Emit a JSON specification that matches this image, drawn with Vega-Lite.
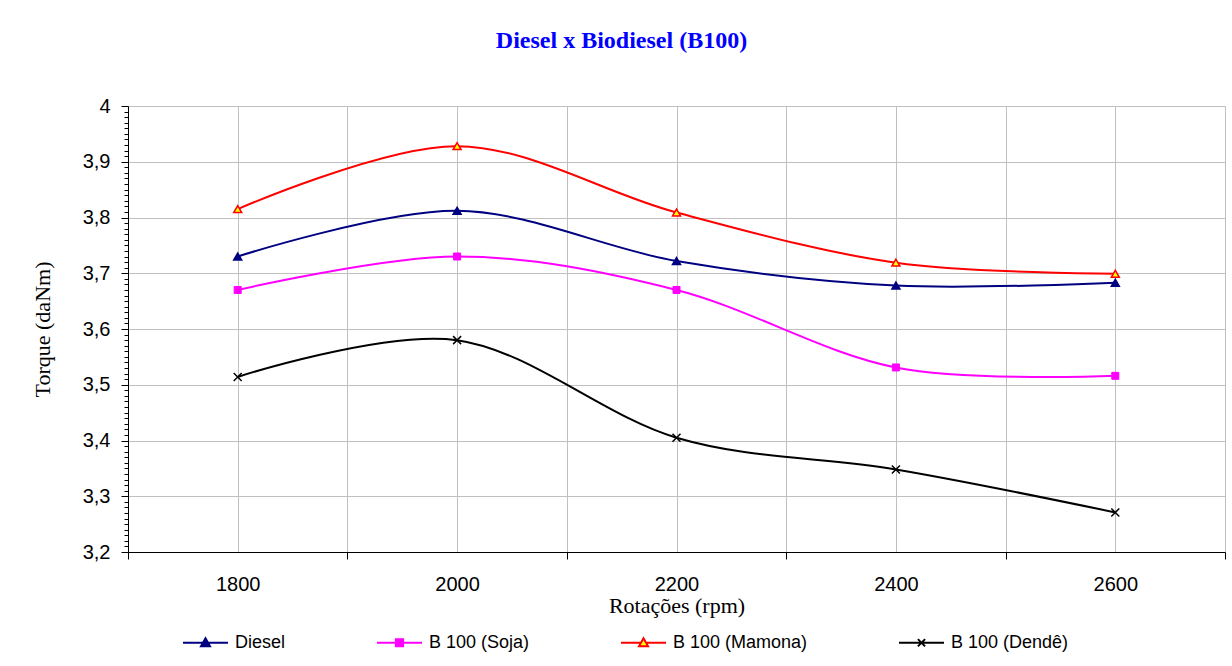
{
  "$schema": "https://vega.github.io/schema/vega-lite/v6.json",
  "width": 1097,
  "height": 446,
  "autosize": {"type": "none"},
  "padding": {"left": 128, "top": 106, "right": 7, "bottom": 114},
  "background": "white",
  "title": {
    "text": "Diesel x Biodiesel (B100)",
    "font": "Liberation Serif",
    "fontSize": 24,
    "fontWeight": "bold",
    "color": "#0000FF",
    "anchor": "middle",
    "frame": "group",
    "dx": -55,
    "offset": 43
  },
  "config": {"view": {"stroke": null}},
  "data": {
    "values": [
      {"rpm": 1800, "serie": "Diesel", "torque": 3.73},
      {"rpm": 2000, "serie": "Diesel", "torque": 3.812},
      {"rpm": 2200, "serie": "Diesel", "torque": 3.722},
      {"rpm": 2400, "serie": "Diesel", "torque": 3.678},
      {"rpm": 2600, "serie": "Diesel", "torque": 3.683},
      {"rpm": 1800, "serie": "B 100 (Soja)", "torque": 3.67},
      {"rpm": 2000, "serie": "B 100 (Soja)", "torque": 3.73},
      {"rpm": 2200, "serie": "B 100 (Soja)", "torque": 3.67},
      {"rpm": 2400, "serie": "B 100 (Soja)", "torque": 3.531},
      {"rpm": 2600, "serie": "B 100 (Soja)", "torque": 3.516},
      {"rpm": 1800, "serie": "B 100 (Mamona)", "torque": 3.815},
      {"rpm": 2000, "serie": "B 100 (Mamona)", "torque": 3.928},
      {"rpm": 2200, "serie": "B 100 (Mamona)", "torque": 3.809},
      {"rpm": 2400, "serie": "B 100 (Mamona)", "torque": 3.719},
      {"rpm": 2600, "serie": "B 100 (Mamona)", "torque": 3.699},
      {"rpm": 1800, "serie": "B 100 (Dendê)", "torque": 3.514},
      {"rpm": 2000, "serie": "B 100 (Dendê)", "torque": 3.58},
      {"rpm": 2200, "serie": "B 100 (Dendê)", "torque": 3.405},
      {"rpm": 2400, "serie": "B 100 (Dendê)", "torque": 3.348},
      {"rpm": 2600, "serie": "B 100 (Dendê)", "torque": 3.271}
    ]
  },
  "encoding": {
    "x": {
      "field": "rpm",
      "type": "quantitative",
      "scale": {"domain": [1700, 2700], "nice": false, "zero": false},
      "axis": {
        "values": [1700, 1800, 1900, 2000, 2100, 2200, 2300, 2400, 2500, 2600, 2700],
        "format": "d",
        "labelExpr": "datum.value % 200 == 0 ? datum.label : ''",
        "labelOverlap": false,
        "labelFlush": false,
        "labelFont": "Liberation Sans",
        "labelFontSize": 20,
        "labelColor": "black",
        "labelPadding": 15,
        "tickSize": 7,
        "tickColor": "black",
        "tickOpacity": {"condition": {"test": "datum.value % 200 == 100", "value": 1}, "value": 0},
        "domainColor": "black",
        "grid": true,
        "gridColor": "#c0c0c0",
        "title": "Rotações (rpm)",
        "titleFont": "Liberation Serif",
        "titleFontSize": 22,
        "titleFontWeight": "normal",
        "titleColor": "black",
        "titleY": 60,
        "titleBaseline": "alphabetic"
      }
    },
    "y": {
      "field": "torque",
      "type": "quantitative",
      "scale": {"domain": [3.2, 4], "nice": false, "zero": false},
      "axis": {
        "tickCount": 80,
        "labelExpr": "abs(datum.value * 10 - round(datum.value * 10)) < 0.000001 ? replace(format(datum.value, '.1~f'), '.', ',') : ''",
        "labelOverlap": false,
        "labelFlush": false,
        "labelFont": "Liberation Sans",
        "labelFontSize": 20,
        "labelColor": "black",
        "labelPadding": 11,
        "tickColor": "black",
        "tickSize": {"condition": {"test": "abs(datum.value * 10 - round(datum.value * 10)) < 0.000001", "value": 7}, "value": 4},
        "domainColor": "black",
        "grid": true,
        "gridColor": "#c0c0c0",
        "gridOpacity": {"condition": {"test": "abs(datum.value * 10 - round(datum.value * 10)) < 0.000001", "value": 1}, "value": 0},
        "title": "Torque (daNm)",
        "titleFont": "Liberation Serif",
        "titleFontSize": 22,
        "titleFontWeight": "normal",
        "titleColor": "black",
        "titleX": -86,
        "titleY": 223,
        "titleAngle": -90,
        "titleAlign": "center",
        "titleBaseline": "middle"
      }
    }
  },
  "layer": [
    {
      "mark": {"type": "line", "interpolate": "cardinal", "tension": 0, "strokeWidth": 2},
      "encoding": {
        "color": {
          "field": "serie",
          "type": "nominal",
          "scale": {
            "domain": ["Diesel", "B 100 (Soja)", "B 100 (Mamona)", "B 100 (Dendê)"],
            "range": ["#000080", "#FF00FF", "#FF0000", "#000000"]
          },
          "legend": {
            "orient": "none",
            "direction": "horizontal",
            "legendX": 54,
            "legendY": 513,
            "title": null,
            "columnPadding": 87,
            "symbolSize": 2025,
            "symbolStrokeWidth": 2,
            "labelFont": "Liberation Sans",
            "labelFontSize": 18,
            "labelColor": "black",
            "labelOffset": 6,
            "encode": {
              "symbols": {
                "update": {
                  "shape": {"signal": "datum.value === 'Diesel' ? 'M-1,0H1M0,-0.2L0.2,0.15L-0.2,0.15Z' : datum.value === 'B 100 (Soja)' ? 'M-1,0H1M-0.16,-0.16H0.16V0.16H-0.16Z' : datum.value === 'B 100 (Mamona)' ? 'M-1,0H-0.11M0.11,0H1M0,-0.2L0.2,0.15L-0.2,0.15Z' : 'M-1,0H1M-0.16,-0.16L0.16,0.16M-0.16,0.16L0.16,-0.16'"},
                  "fill": {"signal": "datum.value === 'Diesel' ? '#000080' : datum.value === 'B 100 (Soja)' ? '#FF00FF' : datum.value === 'B 100 (Mamona)' ? '#FFFF00' : 'transparent'"}
                }
              }
            }
          }
        }
      }
    },
    {
      "transform": [{"filter": "datum.serie === 'Diesel'"}],
      "mark": {"type": "point", "shape": "triangle-up", "filled": true, "size": 64, "fill": "#000080", "stroke": "#000080", "strokeWidth": 1.5, "opacity": 1},
      "encoding": {}
    },
    {
      "transform": [{"filter": "datum.serie === 'B 100 (Soja)'"}],
      "mark": {"type": "point", "shape": "square", "filled": true, "size": 49, "fill": "#FF00FF", "stroke": "#FF00FF", "strokeWidth": 1, "opacity": 1},
      "encoding": {}
    },
    {
      "transform": [{"filter": "datum.serie === 'B 100 (Mamona)'"}],
      "mark": {"type": "point", "shape": "triangle-up", "filled": true, "size": 64, "fill": "#FFFF00", "stroke": "#FF0000", "strokeWidth": 1.5, "opacity": 1},
      "encoding": {}
    },
    {
      "transform": [{"filter": "datum.serie === 'B 100 (Dendê)'"}],
      "mark": {"type": "point", "shape": "M-1,-1L1,1M-1,1L1,-1", "filled": false, "size": 64, "stroke": "#000000", "strokeWidth": 1.5, "opacity": 1},
      "encoding": {}
    }
  ]
}
